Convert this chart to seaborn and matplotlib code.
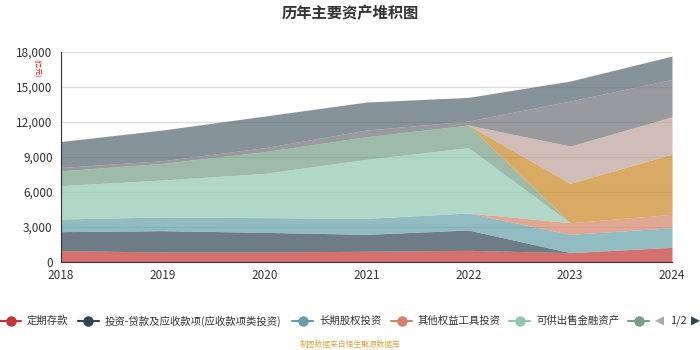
import matplotlib
matplotlib.use("Agg")
import matplotlib.pyplot as plt
from matplotlib.lines import Line2D
import seaborn as sns

years = [2018, 2019, 2020, 2021, 2022, 2023, 2024]

series_names = [
    "定期存款", "投资-贷款及应收款项(应收款项类投资)", "长期股权投资",
    "其他权益工具投资", "可供出售金融资产", "持有至到期投资",
    "债权投资", "其他债权投资", "交易性金融资产", "其他资产",
]

deposits = [970, 860, 860, 920, 1000, 800, 1260]
loans = [1630, 1825, 1680, 1450, 1740, 0, 0]
lt_equity = [1090, 1170, 1260, 1370, 1460, 1570, 1680]
other_equity = [0, 0, 0, 0, 0, 1000, 1140]
afs = [2860, 3170, 3800, 5060, 5600, 0, 0]
htm = [1260, 1430, 1860, 1940, 1940, 0, 0]
debt = [0, 0, 0, 0, 0, 3370, 5170]
other_debt = [0, 0, 0, 0, 0, 3200, 3200]
trading = [290, 230, 340, 570, 340, 3860, 3200]
others = [2230, 2630, 2710, 2400, 2030, 1710, 2000]

y_ticks = [0, 3000, 6000, 9000, 12000, 15000, 18000]

colors = ["#c23531", "#2f4554", "#61a0a8", "#d48265", "#91c7ae",
          "#749f83", "#ca8622", "#bda29a", "#6e7074", "#546570"]

sns.set_theme(style="white")
plt.rcParams["font.family"] = ["Noto Sans CJK SC", "DejaVu Sans"]

W, H = 700, 350
fig = plt.figure(figsize=(7, 3.5), dpi=100)
ax = fig.add_axes([61 / W, 88 / H, 611 / W, 210 / H])

values = [deposits, loans, lt_equity, other_equity, afs, htm,
          debt, other_debt, trading, others]
ax.stackplot(years, values, colors=colors, alpha=0.7, linewidth=0)

ax.set_xlim(2018, 2024)
ax.set_ylim(0, 18000)
ax.set_xticks(years)
ax.set_xticklabels([str(y) for y in years])
ax.set_yticks(y_ticks)
ax.set_yticklabels([f"{v:,}" for v in y_ticks])
ax.yaxis.grid(True, color="#dddddd", linewidth=1)
ax.set_axisbelow(True)
ax.tick_params(axis="both", labelsize=8.5, colors="#333333", length=4,
               width=0.8, direction="out", pad=2)
ax.tick_params(axis="x", pad=1)
for side in ["top", "right"]:
    ax.spines[side].set_visible(False)
for side in ["left", "bottom"]:
    ax.spines[side].set_color("#333333")
    ax.spines[side].set_linewidth(0.8)

# unit label
fig.text(36 / W, 1 - 68 / H, "(亿元)", color="red", fontsize=5, rotation=-90,
         ha="center", va="center")

fig.suptitle("历年主要资产堆积图", x=0.5, y=0.985, fontsize=11,
             fontweight="bold", color="#333333")

# legend (page 1 of 2), echarts-style scroll legend
leg_y = 1 - 321 / H
item_x = [0, 78, 292, 391, 509, 628]
for i, x in enumerate(item_x):
    fig.add_artist(Line2D([x / W, (x + 21) / W], [leg_y, leg_y],
                          transform=fig.transFigure, color=colors[i],
                          linewidth=1.5))
    fig.add_artist(Line2D([(x + 10.5) / W], [leg_y], transform=fig.transFigure,
                          color=colors[i], marker="o", markersize=6.5,
                          linewidth=0))
    if i < 5:
        fig.text((x + 27) / W, leg_y, series_names[i], fontsize=7.5,
                 color="#333333", ha="left", va="center")

fig.text(659 / W, leg_y, "◀", color="#aaaaaa", fontsize=8.5, ha="center",
         va="center", family="DejaVu Sans")
fig.text(678 / W, leg_y, "1/2", color="#333333", fontsize=8, ha="center",
         va="center")
fig.text(695 / W, leg_y, "▶", color="#2f4554", fontsize=8.5, ha="center",
         va="center", family="DejaVu Sans")

fig.text(0.5, 1 - 345 / H, "制图数据来自恒生聚源数据库", color="#d4a84a",
         fontsize=5.6, ha="center", va="center")

fig.savefig("out.png", dpi=100)
